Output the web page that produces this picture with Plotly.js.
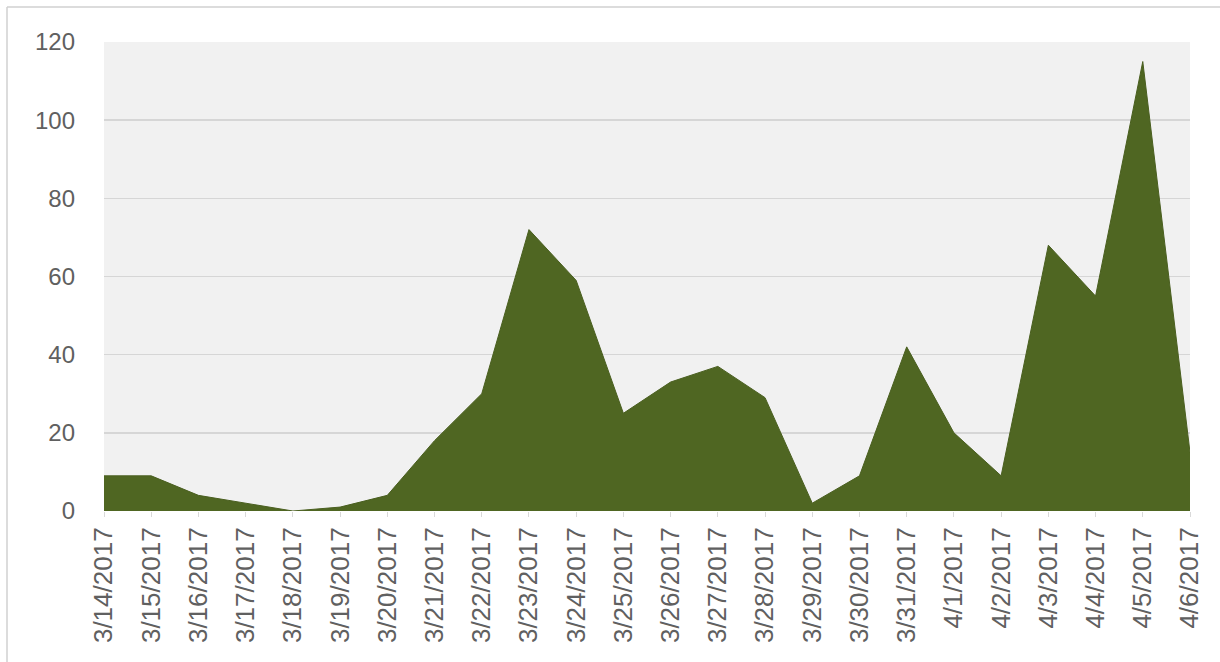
<!DOCTYPE html>
<html>
<head>
<meta charset="utf-8">
<script src="https://cdn.plot.ly/plotly-3.0.1.min.js"></script>
<style>html,body{margin:0;padding:0;background:#fff;}#chart{width:1220px;height:662px;}</style>
</head>
<body>
<div id="chart"></div>
<script>
const dates = ["3/14/2017","3/15/2017","3/16/2017","3/17/2017","3/18/2017","3/19/2017","3/20/2017","3/21/2017","3/22/2017","3/23/2017","3/24/2017","3/25/2017","3/26/2017","3/27/2017","3/28/2017","3/29/2017","3/30/2017","3/31/2017","4/1/2017","4/2/2017","4/3/2017","4/4/2017","4/5/2017","4/6/2017"];
const counts = [9, 9, 4, 2, 0, 1, 4, 18, 30, 72, 59, 25, 33, 37, 29, 2, 9, 42, 20, 9, 68, 55, 115, 15];
const yTicks = [0, 20, 40, 60, 80, 100, 120];

const L = 104, R = 30, T = 42, B = 151;
const pw = 1220 - L - R, ph = 662 - T - B;
const px = x => (x - L) / pw;
const py = y => 1 - (y - T) / ph;

const trace = {
  x: dates,
  y: counts,
  type: 'scatter',
  mode: 'lines',
  fill: 'tozeroy',
  fillcolor: '#4f6622',
  line: {color: '#4a5f20', width: 1},
  hoverinfo: 'x+y'
};

const layout = {
  width: 1220, height: 662,
  margin: {l: L, r: R, t: T, b: B, pad: 0},
  paper_bgcolor: '#ffffff',
  plot_bgcolor: '#f1f1f1',
  showlegend: false,
  font: {family: 'Liberation Sans, Arial, sans-serif', color: '#595959'},
  xaxis: {
    type: 'category',
    range: [0, dates.length - 1],
    tickangle: -90,
    tickfont: {size: 26, color: '#606060'},
    ticks: 'outside', ticklen: 5, tickcolor: '#d9d9d9',
    showgrid: false,
    showline: false,
    zeroline: false,
    fixedrange: true
  },
  yaxis: {
    range: [0, 120],
    tickvals: yTicks,
    ticktext: yTicks.map(String),
    tickfont: {size: 24, color: '#606060'},
    showgrid: true, gridcolor: '#d6d6d6', gridwidth: 1.5,
    zeroline: false,
    showline: false,
    ticks: '', ticklabelstandoff: 28,
    fixedrange: true
  },
  shapes: [
    {type: 'line', xref: 'paper', yref: 'paper', x0: px(7), x1: px(1220), y0: py(7), y1: py(7), line: {color: '#d0d0d0', width: 1.5}},
    {type: 'line', xref: 'paper', yref: 'paper', x0: px(7), x1: px(7), y0: py(7), y1: py(662), line: {color: '#d0d0d0', width: 1.5}}
  ]
};

Plotly.newPlot('chart', [trace], layout, {displayModeBar: false, staticPlot: true});
</script>
</body>
</html>
